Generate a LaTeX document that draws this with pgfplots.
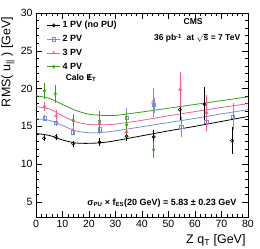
\documentclass[border=0pt]{standalone}
\usepackage{amsmath}
\usepackage{pgfplots}
\pgfplotsset{compat=1.18}
\usepackage{fontspec}
\setmainfont{Liberation Sans}
\usetikzlibrary{calc}
\definecolor{cblue}{RGB}{115,145,215}
\definecolor{cpink}{RGB}{240,95,145}
\definecolor{cgreen}{RGB}{55,160,25}
\begin{document}
\begin{tikzpicture}
\begin{axis}[
  scale only axis, width=212pt, height=204pt,
  xmin=0, xmax=80, ymin=3, ymax=30,
  xtick={0,10,...,80}, ytick={5,10,...,30},
  minor x tick num=4, minor y tick num=4,
  xtick pos=both, ytick pos=both, tick align=inside,
  major tick length=6pt, minor tick length=3pt,
  axis line style={line width=0.8pt}, tick style={line width=0.5pt, black},
  /pgf/number format/assume math mode=true,
  ticklabel style={font=\fontsize{10.5}{12}\selectfont},
  xlabel={Z q\textsubscript{T} [GeV]},
  ylabel={RMS( u\textsubscript{||} ) [GeV]},
  label style={font=\fontsize{12.5}{14}\selectfont},
  xlabel style={at={(axis description cs:1.005,-0.07)}, anchor=north east},
  ylabel style={at={(axis description cs:-0.085,1)}, anchor=south east},
  legend style={at={(axis description cs:0.05,0.97)}, anchor=north west, draw=none, fill=none,
    font=\bfseries\fontsize{9}{10}\selectfont, row sep=2pt, inner sep=0pt},
  legend cell align=left,
  legend image code/.code={\draw[#1] (0pt,0pt) -- (13pt,0pt); \draw[#1, mark repeat=1] plot coordinates {(6.5pt,0pt)};},
  error bars/error bar style={line width=0.6pt},
  clip=false,
]
\addlegendimage{black, line width=0.8pt, mark=o, mark size=1.6pt, mark options={line width=0.6pt}}
\addlegendentry{1 PV (no PU)}
\addlegendimage{cblue, line width=0.8pt, mark=square, mark size=1.6pt, mark options={line width=0.6pt}}
\addlegendentry{2 PV}
\addlegendimage{cpink, line width=0.8pt, mark=triangle, mark size=1.8pt, mark options={line width=0.6pt}}
\addlegendentry{3 PV}
\addlegendimage{cgreen, line width=0.8pt, mark=diamond, mark size=1.6pt, mark options={line width=0.6pt}}
\addlegendentry{4 PV}

% fits
\addplot[black, line width=0.8pt, smooth, forget plot] coordinates {(0,14.05)(5,13.8)(10,13.2)(15,12.8)(20,12.75)(25,12.85)(30,13.1)(40,13.75)(50,14.4)(60,15.0)(70,15.65)(80,16.3)};
\addplot[cblue, line width=0.8pt, smooth, forget plot] coordinates {(0,16.0)(5,15.8)(10,15.1)(15,14.4)(20,14.15)(25,14.2)(30,14.4)(40,14.95)(50,15.5)(60,16.05)(70,16.65)(80,17.2)};
\addplot[cpink, line width=0.8pt, smooth, forget plot] coordinates {(0,17.6)(5,17.3)(10,16.4)(15,15.6)(20,15.25)(25,15.2)(30,15.3)(40,15.8)(50,16.4)(60,16.95)(70,17.5)(80,18.0)};
\addplot[cgreen, line width=0.8pt, smooth, forget plot] coordinates {(0,19.05)(5,18.7)(10,17.9)(15,17.1)(20,16.6)(25,16.45)(30,16.45)(40,16.9)(50,17.4)(60,17.9)(70,18.4)(80,18.9)};

% data
\addplot[black, only marks, mark=o, mark size=1.6pt, mark options={line width=0.6pt}, forget plot,
  error bars/.cd, y dir=both, y explicit, error mark=none]
coordinates {(3,13.4) +- (0,0.4) (7.5,13.6) +- (0,0.4) (14,12.7) +- (0,0.4) (24,12.9) +- (0,0.5)
 (34.2,13.7) +- (0,0.6) (44.4,13.6) +- (0,0.9) (54.3,17.2) +- (0,1.4) (63.6,17.9) +- (0,2.3) (74,13.1) +- (0,1.8)};
\addplot[cblue, only marks, mark=square, mark size=1.6pt, mark options={line width=0.6pt}, forget plot,
  error bars/.cd, y dir=both, y explicit, error mark=none]
coordinates {(3.2,16.05) +- (0,0.4) (7.6,15.5) +- (0,0.5) (14,14.2) +- (0,0.4) (24,14.6) +- (0,0.6)
 (34.2,16.1) +- (0,1.3) (44.6,17.8) +- (0,1.0) (54.8,14.95) +- (0,1.3) (64.3,15.6) +- (0,1.0) (74.4,16.3) +- (0,1.85)};
\addplot[cpink, only marks, mark=triangle, mark size=1.8pt, mark options={line width=0.6pt}, forget plot,
  error bars/.cd, y dir=both, y explicit, error mark=none]
coordinates {(3.2,17.6) +- (0,0.6) (7.6,16.4) +- (0,0.7) (14,14.5) +- (0,0.5) (24,15.4) +- (0,0.8)
 (34.2,14.3) +- (0,0.8) (44.2,18.2) +- (0,1.9) (54.4,19.9) +- (0,2.3) (64.3,16.8) +- (0,2.4)};
\addplot[cgreen, only marks, mark=diamond, mark size=1.6pt, mark options={line width=0.6pt}, forget plot,
  error bars/.cd, y dir=both, y explicit, error mark=none]
coordinates {(3.2,19.7) +- (0,1.1) (7.3,19.3) +- (0,1.2) (14,15.8) +- (0,0.8) (24,15.7) +- (0,1.3)
 (34.2,15.2) +- (0,1.7) (44.4,11.9) +- (0,1.1)};

\node[anchor=west, font=\bfseries\fontsize{8.5}{10}\selectfont] at (axis cs:9.9,21.45)
  {Calo \ooalign{E\cr\hidewidth/\hidewidth\cr}\textsubscript{T}};
\node[font=\bfseries\fontsize{8.5}{10}\selectfont, inner sep=1pt] at (axis cs:59.3,28.85) {CMS};
\node[font=\bfseries\fontsize{8.5}{10}\selectfont, inner sep=1pt] at (axis cs:60.8,26.65) {36 pb\textsuperscript{-1}\ \ at $\sqrt{\text{s}}$ = 7 TeV};
\node[font=\bfseries\fontsize{9}{10}\selectfont] at (axis cs:47.5,4.85) {σ\textsubscript{PU} × f\textsubscript{ES}(20 GeV) = 5.83 ± 0.23 GeV};
\end{axis}
\pgfresetboundingbox
\path ($(current axis.south west)+(-36pt,-32pt)$) rectangle ($(current axis.north east)+(12pt,13pt)$);
\end{tikzpicture}
\end{document}
